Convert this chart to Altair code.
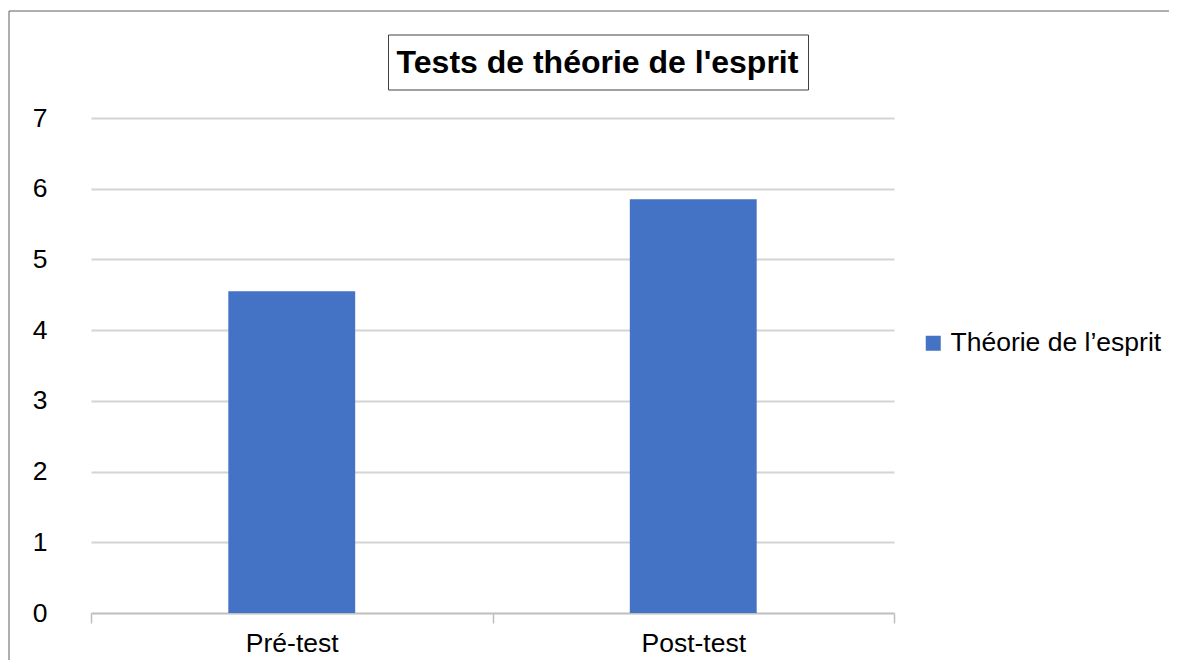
import altair as alt
import pandas as pd

categories = ["Pré-test", "Post-test"]
values = [4.55, 5.85]
series_name = "Théorie de l’esprit"
y_ticks = [0, 1, 2, 3, 4, 5, 6, 7]
title_text = "Tests de théorie de l'esprit"

df = pd.DataFrame({"cat": categories, "val": values, "series": [series_name] * len(categories)})

FONT = "Liberation Sans"
LBL = 26.5

bars = alt.Chart(df).mark_bar(width={"band": 0.316}).encode(
    x=alt.X(
        "cat:N", sort=categories,
        scale=alt.Scale(paddingInner=0, paddingOuter=0),
        axis=alt.Axis(title=None, labelAngle=0, labelFontSize=LBL, labelFont=FONT, labelColor="#000000",
                      domainColor="#bfbfbf", tickColor="#bfbfbf", tickSize=10, tickBand="extent",
                      labelPadding=7, grid=False, domainWidth=1.5, tickWidth=1.5),
    ),
    y=alt.Y(
        "val:Q", scale=alt.Scale(domain=[0, 7]),
        axis=alt.Axis(title=None, values=y_ticks, ticks=False, domain=False, labelFontSize=LBL,
                      labelFont=FONT, labelPadding=44, gridColor="#d4d4d4", gridWidth=2,
                      labelColor="#000000"),
    ),
    color=alt.Color(
        "series:N", scale=alt.Scale(range=["#4472C4"]),
        legend=alt.Legend(title=None, orient="none", legendX=829, legendY=212, symbolType="square",
                          symbolSize=225, labelFontSize=LBL, labelFont=FONT, labelColor="#000000",
                          labelOffset=4, labelLimit=0, padding=0, symbolStrokeWidth=0),
    ),
)

tdf = pd.DataFrame({"t": [title_text]})

box = alt.Chart(tdf).mark_rect(fillOpacity=0, stroke="#404040", strokeWidth=1).encode(
    x=alt.value(297.5), x2=alt.value(717.5), y=alt.value(-83), y2=alt.value(-28)
)
title = alt.Chart(tdf).mark_text(font=FONT, fontSize=32, fontWeight="bold", color="#000000",
                                 align="center", baseline="middle").encode(
    text="t:N", x=alt.value(506.5), y=alt.value(-55)
)

top_border = alt.Chart(tdf).mark_rule(color="#5f5f5f", strokeWidth=1).encode(
    x=alt.value(-82), x2=alt.value(1078), y=alt.value(-107)
)
left_border = alt.Chart(tdf).mark_rule(color="#5f5f5f", strokeWidth=1).encode(
    x=alt.value(-82), y=alt.value(-107), y2=alt.value(542)
)

chart = alt.layer(bars, box, title, top_border, left_border).properties(
    width=803, height=495,
    padding={"left": 0, "top": 2, "right": 0, "bottom": 0},
).configure(font=FONT).configure_view(stroke=None)

chart.save("out.html", embed_options={"renderer": "svg", "actions": False})
